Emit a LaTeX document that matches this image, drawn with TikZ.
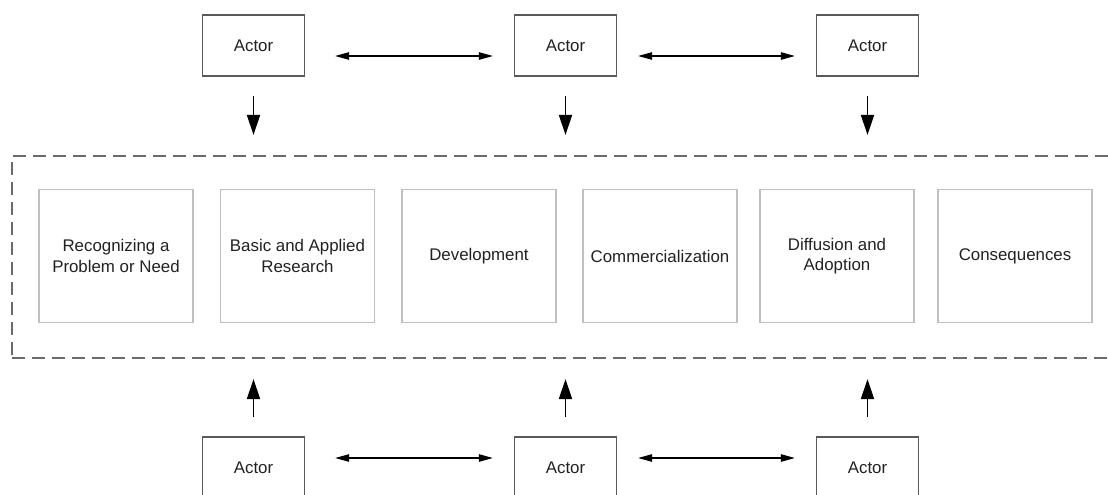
\documentclass[tikz,border=0pt]{standalone}
\usepackage{fontspec}
\setmainfont{Liberation Sans}
\usetikzlibrary{arrows.meta}

\begin{document}
\begin{tikzpicture}[x=0.02cm, y=-0.02cm]
      \newcommand{\rowy}[0]{256}
      \newcommand{\topy}[0]{45.5}
      \newcommand{\boty}[0]{467.5}

      \definecolor{actorgray}{rgb}{0.35,0.35,0.35}
      \definecolor{stagegray}{rgb}{0.75,0.75,0.75}
      \definecolor{framegray}{rgb}{0.42,0.42,0.42}
      \definecolor{textgray}{rgb}{0.13,0.13,0.13}

      \tikzstyle{actor}=[
        draw=actorgray,
        line width=0.8pt,
        minimum width=2.04cm,
        minimum height=1.22cm,
        inner sep=0pt,
        anchor=center,
        text=textgray,
        font=\fontsize{9.6}{11.5}\selectfont
      ]
      \tikzstyle{stage}=[
        draw=stagegray,
        line width=0.7pt,
        minimum width=3.08cm,
        minimum height=2.66cm,
        inner sep=0pt,
        align=center,
        anchor=center,
        text=textgray,
        font=\fontsize{9.6}{11.5}\selectfont
      ]
      \tikzstyle{frame}=[
        draw=framegray,
        line width=0.7pt,
        dash pattern=on 7.4pt off 4pt,
        minimum width=22.36cm,
        minimum height=4.04cm,
        inner sep=0pt
      ]
      \tikzstyle{push} = [line width=1.1pt, -{Triangle[length=0.4cm,width=0.26cm]},
        shorten <=0.38cm, shorten >=0.41cm, draw=black]
      \tikzstyle{link} = [line width=0.6pt, draw=black,
        {Triangle[length=0.28cm,width=0.15cm]}-{Triangle[length=0.28cm,width=0.15cm]}]

      \clip (0,0) rectangle (1108,494);

      % dashed frame round the stages, open on the right
      \node[frame] (frame) at (571, 257) {};

      \node[stage] (need)         at (116  , \rowy) {Recognizing a\\Problem or Need};
      \node[stage] (research)     at (297.5, \rowy) {Basic and Applied\\Research};
      \node[stage] (development)  at (479  , \rowy) {Development};
      \node[stage] (commercial)   at (660  , \rowy) {Commercialization};
      \node[stage] (diffusion)    at (837  , \rowy) {Diffusion and\\Adoption};
      \node[stage] (consequences) at (1015 , \rowy) {Consequences};

      \node[actor] (actortl) at (253.5, \topy) {Actor};
      \node[actor] (actortm) at (565.5, \topy) {Actor};
      \node[actor] (actortr) at (867.5, \topy) {Actor};
      \node[actor] (actorbl) at (253.5, \boty) {Actor};
      \node[actor] (actorbm) at (565.5, \boty) {Actor};
      \node[actor] (actorbr) at (867.5, \boty) {Actor};

      \draw[push] (actortl.south) -- (actortl.south |- frame.north);
      \draw[push] (actortm.south) -- (actortm.south |- frame.north);
      \draw[push] (actortr.south) -- (actortr.south |- frame.north);
      \draw[push] (actorbl.north) -- (actorbl.north |- frame.south);
      \draw[push] (actorbm.north) -- (actorbm.north |- frame.south);
      \draw[push] (actorbr.north) -- (actorbr.north |- frame.south);

      \draw[link, shorten <=0.6cm, shorten >=0.42cm] ([yshift=-0.21cm]actortl.east) -- ([yshift=-0.21cm]actortm.west);
      \draw[link, shorten <=0.42cm, shorten >=0.42cm] ([yshift=-0.21cm]actortm.east) -- ([yshift=-0.21cm]actortr.west);
      \draw[link, shorten <=0.6cm, shorten >=0.42cm] ([yshift=0.19cm]actorbl.east) -- ([yshift=0.19cm]actorbm.west);
      \draw[link, shorten <=0.42cm, shorten >=0.42cm] ([yshift=0.19cm]actorbm.east) -- ([yshift=0.19cm]actorbr.west);
    \end{tikzpicture}
\end{document}
